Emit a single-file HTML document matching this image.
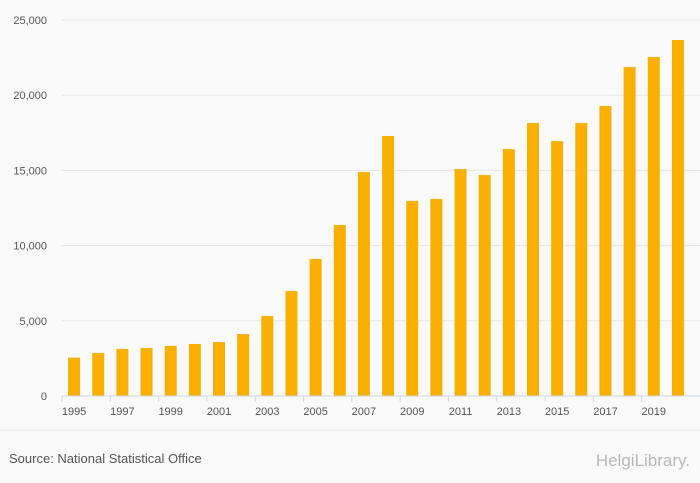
<!DOCTYPE html>
<html><head><meta charset="utf-8">
<style>
html,body{margin:0;padding:0;background:#fafafa;}
body{width:700px;height:483px;overflow:hidden;font-family:"Liberation Sans",sans-serif;}
#c{position:absolute;left:0;top:0;}
</style></head>
<body>
<svg id="c" width="700" height="483" xmlns="http://www.w3.org/2000/svg">
<rect width="700" height="483" fill="#fafafa"/>
<g id="grid"></g><g id="bars"></g><g id="axes"></g>
<line x1="0" y1="430" x2="700" y2="430" stroke="#e4e4e4"/>
<text x="9" y="463" font-size="13" fill="#555">Source: National Statistical Office</text>
<text x="690" y="466" font-size="17" fill="#b8b8b8" text-anchor="end">HelgiLibrary.</text>
</svg>
<script>
const years=[1995,1996,1997,1998,1999,2000,2001,2002,2003,2004,2005,2006,2007,2008,2009,2010,2011,2012,2013,2014,2015,2016,2017,2018,2019,2020];
const values=[2550,2860,3130,3190,3330,3460,3590,4120,5320,6980,9110,11370,14890,17290,12970,13100,15090,14690,16420,18150,16950,18150,19280,21870,22540,23670];
const yTicks=[0,5000,10000,15000,20000,25000];
const yTickLabels=["0","5,000","10,000","15,000","20,000","25,000"];
const NS="http://www.w3.org/2000/svg";
const x0=62,x1=690,yTop=20,yBot=396,yMax=25000;
const step=(x1-x0)/years.length;
function xs(i){return x0+step*(i+0.5);}
function ys(v){return yBot-(v/yMax)*(yBot-yTop);}
function mk(t,a,p){const e=document.createElementNS(NS,t);for(const k in a)e.setAttribute(k,a[k]);p.appendChild(e);return e;}
const g=document.getElementById('grid'),b=document.getElementById('bars'),ax=document.getElementById('axes');
yTicks.forEach((v,i)=>{
 const l=mk('line',{x1:x0,x2:x1+10,y1:ys(v),y2:ys(v),stroke:'#e6e6e6'},g);
 
 
 const t=mk('text',{x:47,y:ys(v)+4,'font-size':11,fill:'#555','text-anchor':'end'},ax);
 t.textContent=yTickLabels[i];
 
 
});
years.forEach((yr,i)=>{
 const r=mk('rect',{x:xs(i)-6,y:ys(values[i]),width:12,height:yBot-ys(values[i]),fill:'#f9b000'},b);
 
 
 if(i%2===0){
  const tk=mk('line',{x1:x0+step*i,x2:x0+step*i,y1:yBot,y2:yBot+6,stroke:'#ccd6eb'},ax);
  
  
  const t=mk('text',{x:xs(i),y:yBot+19,'font-size':11,fill:'#555','text-anchor':'middle'},ax);
  t.textContent=yr;
  
  
 }
});
const al=mk('line',{x1:x0,x2:x1+10,y1:yBot,y2:yBot,stroke:'#ccd6eb'},ax);


</script>
</body></html>
